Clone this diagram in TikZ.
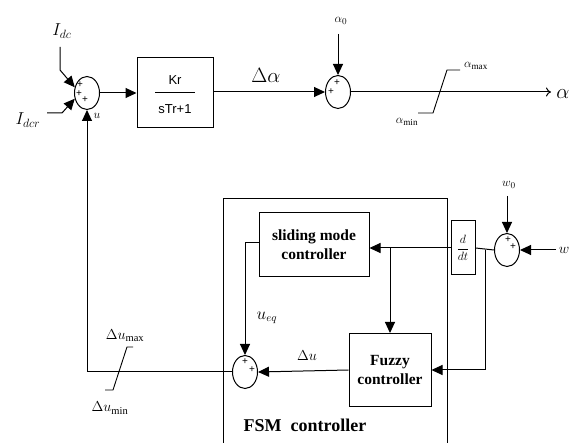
\documentclass[tikz,border=0pt]{standalone}
\usepackage{fontspec}
\setmainfont{Liberation Serif}
\newfontfamily\arialfont{Liberation Sans}
\usetikzlibrary{arrows.meta,shapes.geometric,calc}
\tikzset{
  arr/.style={-{Triangle[length=11pt,width=10pt]}},
  sumnode/.style={draw,ellipse,minimum width=25pt,minimum height=33pt,inner sep=0pt},
  blk/.style={draw,rectangle,inner sep=0pt},
  pl/.style={font=\fontsize{10}{10}\selectfont\arialfont,inner sep=0pt},
  lbl/.style={inner sep=0pt},
  sat/.style={line width=0.9pt},
}
\begin{document}
\begin{tikzpicture}[x=1pt,y=-1pt,line width=1pt]
\useasboundingbox (0,0) rectangle (573,443);
\fill[white] (0,0) rectangle (573,443);
% summing junctions
\node[sumnode] (s1) at (87,93) {};
\node[sumnode] (s2) at (338,92) {};
\node[sumnode] (s3) at (245,372) {};
\node[sumnode] (s4) at (507,250) {};
\node[pl] (p1a) at ($(s1)+(-7,-8)$) {+};
\node[pl] (p1b) at ($(s1)+(-8,1)$) {+};
\node[pl] (p1c) at ($(s1)+(-2,7)$) {+};
\node[pl] (p2a) at ($(s2)+(-1,-9)$) {+};
\node[pl] (p2b) at ($(s2)+(-7,0)$) {+};
\node[pl] (p3a) at ($(s3)+(0,-10)$) {+};
\node[pl] (p3b) at ($(s3)+(7,-2)$) {+};
\node[pl] (p4a) at ($(s4)+(1,-10)$) {+};
\node[pl] (p4b) at ($(s4)+(6,-3)$) {+};
% blocks
\node[blk,minimum width=76pt,minimum height=70pt] (kr) at (175,93) {};
\node[lbl,font=\arialfont\fontsize{13}{13}\selectfont] (krt) at (175,80) {Kr};
\node[lbl,font=\arialfont\fontsize{13}{13}\selectfont] (krb) at (175,109) {sTr+1};
\draw (155,93) -- (195,93);
\node[draw,minimum width=224pt,minimum height=260pt,inner sep=0pt,anchor=north west] (fsm) at (223,198) {};
\node[blk,minimum width=110pt,minimum height=64pt,align=center,font=\bfseries\fontsize{15.5}{19}\selectfont] (sm) at (314,245) {sliding mode\\controller};
\node[blk,minimum width=24pt,minimum height=54pt,font=\fontsize{13}{13}\selectfont] (dd) at (463,248) {$\displaystyle\frac{d}{dt}$};
\node[blk,minimum width=82pt,minimum height=73pt,align=center,font=\bfseries\fontsize{15.5}{19}\selectfont] (fz) at (390,370) {Fuzzy\\controller};
\node[lbl,font=\bfseries\fontsize{18}{18}\selectfont] (fsml) at (305,425) {FSM\ \ controller};
% labels
\node[lbl,font=\fontsize{17}{17}\selectfont] (idc) at (62,31) {$I_{dc}$};
\node[lbl,font=\fontsize{17}{17}\selectfont] (idcr) at (28,120) {$I_{dcr}$};
\node[lbl,font=\fontsize{13}{13}\selectfont] (ul) at (97,116) {$u$};
\node[lbl,font=\fontsize{22}{22}\selectfont] (da) at (266,75) {$\Delta\alpha$};
\node[lbl,font=\fontsize{13}{13}\selectfont] (a0) at (341,21) {$\alpha_0$};
\node[lbl,font=\fontsize{22}{22}\selectfont] (al) at (563,94) {$\alpha$};
\node[lbl,font=\fontsize{13}{13}\selectfont] (amax) at (476,66) {$\alpha_{\mathrm{max}}$};
\node[lbl,font=\fontsize{13}{13}\selectfont] (amin) at (407,122) {$\alpha_{\mathrm{min}}$};
\node[lbl,font=\fontsize{13}{13}\selectfont] (w0) at (509,185) {$w_0$};
\node[lbl,font=\fontsize{15}{15}\selectfont] (wl) at (564,250) {$w$};
\node[lbl,font=\fontsize{16}{16}\selectfont] (ueq) at (267,318) {$u_{eq}$};
\node[lbl,font=\fontsize{14}{14}\selectfont] (dul) at (307,356) {$\Delta u$};
\node[lbl,font=\fontsize{15}{15}\selectfont] (dumax) at (125,336) {$\Delta u_{\mathrm{max}}$};
\node[lbl,font=\fontsize{15}{15}\selectfont] (dumin) at (110,408) {$\Delta u_{\mathrm{min}}$};
% connectors top
\coordinate (idc1) at (60,47);
\coordinate (idc2) at (60,70);
\draw[arr] (idc1) -- (idc2) -- (s1.155);
\coordinate (idcr1) at (47,113);
\coordinate (idcr2) at (62,113);
\draw[arr] (idcr1) -- (idcr2) -- (s1.205);
\draw[arr] (s1.east) -- (kr.west);
\draw[arr] (kr.east |- s2) -- (s2.west);
\coordinate (a0s) at (338,34);
\draw[arr] (a0s) -- (s2.north);
\coordinate (aout) at (551,92);
\draw[-{To[length=5pt,width=9pt]}] (s2.east) -- (aout);
\draw[sat] (418,113) -- (433,113) -- (447,70) -- (460,70);
% lower loop
\coordinate (w0s) at (507,196);
\draw[arr] (w0s) -- (s4.north);
\coordinate (ws) at (556,250);
\draw[arr] (ws) -- (s4.east);
\draw (s4.west) -- (dd.east);
\draw[arr] (dd.west) -- (sm.east |- dd.west);
\coordinate (b1) at (390,248);
\draw[arr] (b1) -- (fz.north);
\coordinate (b2) at (485,250);
\coordinate (b3) at (485,370);
\draw[arr] (b2) -- (b3) -- (fz.east);
\coordinate (smo) at (245,243);
\draw[arr] (sm.west |- smo) -- (smo) -- (s3.north);
\draw[arr] (fz.west) -- (s3.east);
\coordinate (c1) at (87,372);
\draw[arr] (s3.west) -- (c1) -- (s1.south);
\draw[sat] (105,390) -- (113,390) -- (127,347) -- (133,347);
\end{tikzpicture}
\end{document}
